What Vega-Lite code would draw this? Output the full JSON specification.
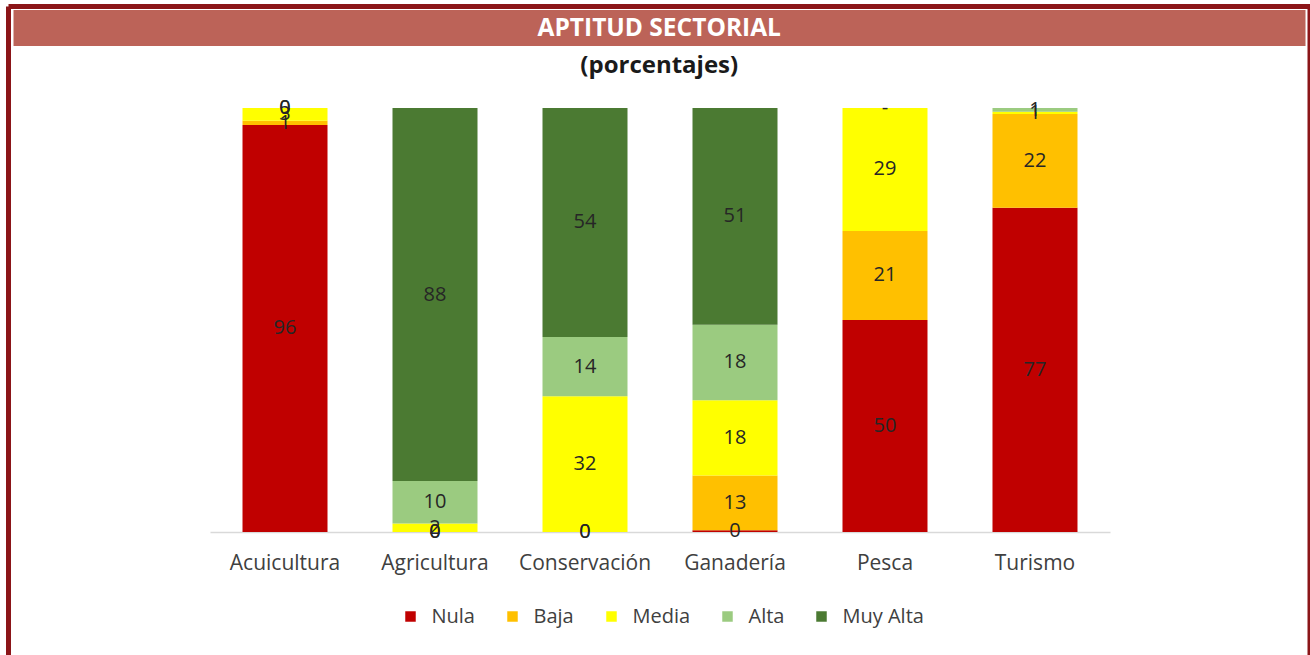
{
  "$schema": "https://vega.github.io/schema/vega-lite/v6.json",
  "width": 1301.5,
  "height": 648.5,
  "autosize": {"type": "none"},
  "padding": {"left": 8.5, "top": 6.5, "right": 0, "bottom": 0},
  "background": "white",
  "config": {
    "font": "Open Sans",
    "view": {"stroke": "#8B1518", "strokeWidth": 5, "strokeDash": [1950, 1301.5, 648.5, 0], "fill": "white"}
  },
  "title": {
    "text": "APTITUD SECTORIAL",
    "subtitle": "(porcentajes)",
    "anchor": "middle",
    "frame": "group",
    "orient": "top",
    "offset": -72.3,
    "color": "white",
    "font": "Open Sans",
    "fontSize": 24.5,
    "fontWeight": "bold",
    "subtitleColor": "#1a1a1a",
    "subtitleFont": "Open Sans",
    "subtitleFontSize": 24,
    "subtitleFontWeight": "bold",
    "subtitlePadding": 12.5
  },
  "data": {
    "values": [
      {"cat": "Acuicultura", "level": "Nula", "o": 1, "v": 96, "label": "96"},
      {"cat": "Acuicultura", "level": "Baja", "o": 2, "v": 1, "label": "1"},
      {"cat": "Acuicultura", "level": "Media", "o": 3, "v": 3, "label": "3"},
      {"cat": "Acuicultura", "level": "Alta", "o": 4, "v": 0, "label": "0"},
      {"cat": "Acuicultura", "level": "Muy Alta", "o": 5, "v": 0, "label": "0"},
      {"cat": "Agricultura", "level": "Nula", "o": 1, "v": 0, "label": "0"},
      {"cat": "Agricultura", "level": "Baja", "o": 2, "v": 0, "label": "0"},
      {"cat": "Agricultura", "level": "Media", "o": 3, "v": 2, "label": "2"},
      {"cat": "Agricultura", "level": "Alta", "o": 4, "v": 10, "label": "10"},
      {"cat": "Agricultura", "level": "Muy Alta", "o": 5, "v": 88, "label": "88"},
      {"cat": "Conservación", "level": "Nula", "o": 1, "v": 0, "label": "0"},
      {"cat": "Conservación", "level": "Baja", "o": 2, "v": 0, "label": "0"},
      {"cat": "Conservación", "level": "Media", "o": 3, "v": 32, "label": "32"},
      {"cat": "Conservación", "level": "Alta", "o": 4, "v": 14, "label": "14"},
      {"cat": "Conservación", "level": "Muy Alta", "o": 5, "v": 54, "label": "54"},
      {"cat": "Ganadería", "level": "Nula", "o": 1, "v": 0.4, "label": "0"},
      {"cat": "Ganadería", "level": "Baja", "o": 2, "v": 12.9, "label": "13"},
      {"cat": "Ganadería", "level": "Media", "o": 3, "v": 17.8, "label": "18"},
      {"cat": "Ganadería", "level": "Alta", "o": 4, "v": 17.8, "label": "18"},
      {"cat": "Ganadería", "level": "Muy Alta", "o": 5, "v": 51.1, "label": "51"},
      {"cat": "Pesca", "level": "Nula", "o": 1, "v": 50, "label": "50"},
      {"cat": "Pesca", "level": "Baja", "o": 2, "v": 21, "label": "21"},
      {"cat": "Pesca", "level": "Media", "o": 3, "v": 29, "label": "29"},
      {"cat": "Pesca", "level": "Alta", "o": 4, "v": 0, "label": "-"},
      {"cat": "Turismo", "level": "Nula", "o": 1, "v": 76.5, "label": "77"},
      {"cat": "Turismo", "level": "Baja", "o": 2, "v": 22.1, "label": "22"},
      {"cat": "Turismo", "level": "Media", "o": 3, "v": 0.5, "label": "1"},
      {"cat": "Turismo", "level": "Alta", "o": 4, "v": 0.9, "label": "1"}
    ]
  },
  "layer": [
    {
      "mark": {"type": "bar"},
      "encoding": {
        "x": {
          "field": "cat", "type": "nominal", "sort": null,
          "scale": {"range": [201.5, 1101.5], "paddingInner": 0.4333, "paddingOuter": 0.2167},
          "axis": {"orient": "bottom", "offset": -123, "domain": true, "domainColor": "#D9D9D9", "domainWidth": 1.5, "ticks": false, "tickSize": 0, "labelPadding": 20, "labelFontSize": 21, "labelColor": "#404040", "labelFont": "Open Sans", "labelAngle": 0, "grid": false, "title": null}
        },
        "y": {
          "field": "v", "type": "quantitative", "stack": "zero",
          "scale": {"domain": [0, 123.94], "range": [525.5, 0], "nice": false, "zero": true},
          "axis": {
            "values": [119.1], "grid": true, "gridColor": "#BC6358", "gridWidth": 36, "gridOpacity": 1,
            "labels": false, "ticks": false, "domain": false, "title": null,
            "encoding": {"grid": {"x": {"value": 4.5}, "x2": {"value": 1296.5}}}
          }
        },
        "color": {
          "field": "level", "type": "nominal",
          "scale": {"domain": ["Nula", "Baja", "Media", "Alta", "Muy Alta"], "range": ["#C00000", "#FFC000", "#FFFF00", "#9BCB80", "#4B7A32"]},
          "legend": {"orient": "none", "legendX": 392, "legendY": 600, "direction": "horizontal", "columns": 5, "title": null, "symbolType": "square", "symbolSize": 110, "symbolStrokeWidth": 0, "labelFontSize": 20, "labelColor": "#404040", "labelFont": "Open Sans", "columnPadding": 27, "labelOffset": 11}
        },
        "order": {"field": "o", "type": "quantitative"}
      }
    },
    {
      "mark": {"type": "text", "fontSize": 20, "color": "#262626", "baseline": "middle", "align": "center", "font": "Open Sans"},
      "encoding": {
        "x": {"field": "cat", "type": "nominal", "sort": null},
        "y": {"field": "v", "type": "quantitative", "stack": "zero", "bandPosition": 0.5},
        "detail": {"field": "level"},
        "order": {"field": "o", "type": "quantitative"},
        "text": {"field": "label"}
      }
    }
  ]
}
